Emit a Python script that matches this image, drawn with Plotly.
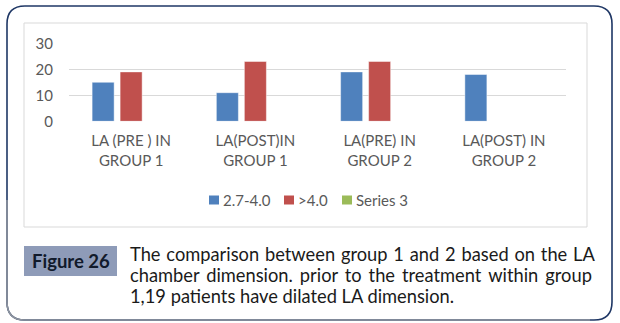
import plotly.graph_objects as go

# ---- data ----
categories = ["LA (PRE ) IN<br>GROUP 1", "LA(POST)IN<br>GROUP 1",
              "LA(PRE) IN<br>GROUP 2", "LA(POST) IN<br>GROUP 2"]
series_names = ["2.7-4.0", ">4.0", "Series 3"]
s1_values = [15, 11, 19, 18]
s2_values = [19, 23, 23, None]
s3_values = [None, None, None, None]
y_ticks = [0, 10, 20, 30]
fig_label = "Figure 26"
caption_lines = [
    "The comparison between group 1 and 2 based on the LA",
    "chamber dimension. prior to the treatment within group",
    "1,19 patients have dilated LA dimension.",
]

W, H = 620, 323
colors = ["#4F81BD", "#C0504D", "#9BBB59"]
FONT = "Lato"


def px(x):
    return x / W


def py(y):
    return 1 - y / H


fig = go.Figure()
for name, vals, c in zip(series_names, [s1_values, s2_values, s3_values], colors):
    fig.add_trace(go.Bar(
        x=categories, y=vals, name=name, showlegend=False,
        marker=dict(color=c, line=dict(color="rgba(255,255,255,0.45)", width=1)),
    ))

shapes = []
annotations = []
# inner chart border
shapes.append(dict(type="rect", xref="paper", yref="paper",
                   x0=px(24), x1=px(587), y0=py(227), y1=py(23),
                   line=dict(color="#d9d9d9", width=1), layer="below"))
# outer rounded frame
L, T, R, B, r = 7, 6, 612, 320, 18


def P(x, y):
    return f"{px(x):.5f},{py(y):.5f}"


frame = (f"M {P(L, T + r)} Q {P(L, T)} {P(L + r, T)} L {P(R - r, T)} "
         f"Q {P(R, T)} {P(R, T + r)} L {P(R, B - r)} Q {P(R, B)} {P(R - r, B)} "
         f"L {P(L + r, B)} Q {P(L, B)} {P(L, B - r)} Z")
shapes.append(dict(type="path", xref="paper", yref="paper", path=frame,
                   line=dict(color="#1f3765", width=1.6)))
bottom = (f"M {P(L, 200)} L {P(L, B - r)} Q {P(L, B)} {P(L + r, B)} L {P(590, B)}")
shapes.append(dict(type="path", xref="paper", yref="paper", path=bottom,
                   line=dict(color="#8e949e", width=1.6)))

# legend (drawn manually for exact spacing)
legend_sq_left = [209, 284, 342]
for name, c, x0 in zip(series_names, colors, legend_sq_left):
    shapes.append(dict(type="rect", xref="paper", yref="paper",
                       x0=px(x0), x1=px(x0 + 10), y0=py(204.5), y1=py(195.5),
                       fillcolor=c, line=dict(width=0)))
    annotations.append(dict(xref="paper", yref="paper", x=px(x0 + 12), y=py(200),
                            text=name, showarrow=False, xanchor="left", yanchor="middle",
                            font=dict(family=FONT, size=15, color="#595959")))

# figure label box
shapes.append(dict(type="rect", xref="paper", yref="paper",
                   x0=px(24), x1=px(117), y0=py(276), y1=py(246),
                   fillcolor="#8e9bb8", line=dict(width=0), layer="below"))
annotations.append(dict(xref="paper", yref="paper", x=px(70.5), y=py(261),
                        text=f"<b>{fig_label}</b>", showarrow=False,
                        xanchor="center", yanchor="middle",
                        font=dict(family=FONT, size=18.5, color="#111a2b")))
# caption, roughly justified by widening word spaces
space_pad = ["\u200a", "\u2009", ""]
for i, (line, pad) in enumerate(zip(caption_lines, space_pad)):
    annotations.append(dict(xref="paper", yref="paper", x=px(128), y=py(254 + 21 * i),
                            text=line.replace(" ", " " + pad), showarrow=False,
                            xanchor="left", yanchor="middle",
                            font=dict(family=FONT, size=18.3, color="#1a1a1a")))

fig.update_layout(
    width=W, height=H,
    margin=dict(l=0, r=0, t=0, b=0, autoexpand=False),
    paper_bgcolor="white", plot_bgcolor="white",
    barmode="group", bargap=0.324, bargroupgap=0.214,
    showlegend=False,
    font=dict(family=FONT, size=15, color="#595959"),
    xaxis=dict(domain=[px(69), px(566)], showgrid=False, showline=False,
               automargin=False,
               ticks="outside", ticklen=6, tickcolor="rgba(0,0,0,0)",
               tickfont=dict(size=15, color="#595959")),
    yaxis=dict(domain=[py(121.3), py(43.3)], range=[0, 30], tickvals=y_ticks,
               automargin=False,
               showgrid=True, gridcolor="#d9d9d9", gridwidth=1,
               zeroline=False, showline=False,
               ticks="outside", ticklen=12, tickcolor="rgba(0,0,0,0)",
               tickfont=dict(size=15, color="#595959")),
    shapes=shapes, annotations=annotations,
)

fig.write_html("out.html")
